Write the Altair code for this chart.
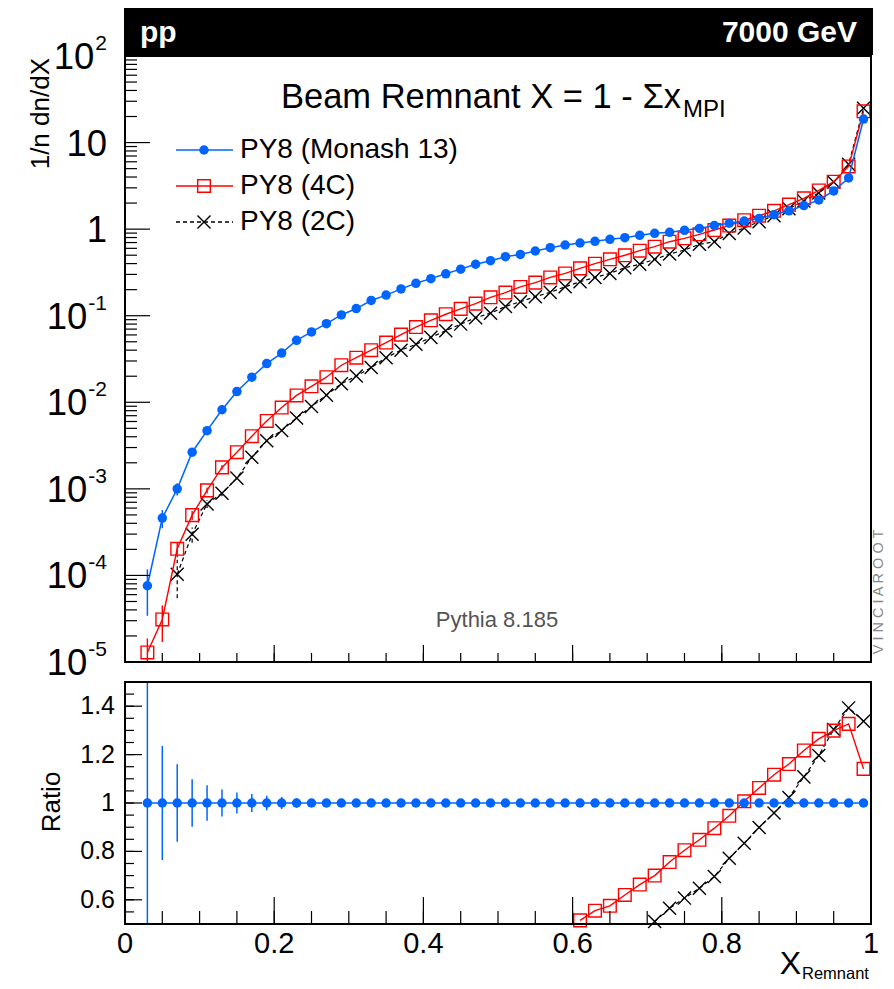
import altair as alt
import pandas as pd

# ---------------- data ----------------
x_centers = [0.03, 0.05, 0.07, 0.09, 0.11, 0.13, 0.15, 0.17, 0.19, 0.21,
             0.23, 0.25, 0.27, 0.29, 0.31, 0.33, 0.35, 0.37, 0.39, 0.41,
             0.43, 0.45, 0.47, 0.49, 0.51, 0.53, 0.55, 0.57, 0.59, 0.61,
             0.63, 0.65, 0.67, 0.69, 0.71, 0.73, 0.75, 0.77, 0.79, 0.81,
             0.83, 0.85, 0.87, 0.89, 0.91, 0.93, 0.95, 0.97, 0.99]

monash = [7.6e-5, 4.6e-4, 1.0e-3, 2.65e-3, 4.7e-3, 8.2e-3, 1.33e-2, 1.95e-2, 2.8e-2, 3.7e-2,
          5.2e-2, 6.5e-2, 8.1e-2, 0.102, 0.121, 0.150, 0.173, 0.204, 0.237, 0.268,
          0.305, 0.345, 0.393, 0.432, 0.481, 0.510, 0.559, 0.610, 0.656, 0.692,
          0.723, 0.763, 0.797, 0.849, 0.895, 0.919, 0.970, 1.02, 1.10, 1.17,
          1.24, 1.33, 1.47, 1.63, 1.87, 2.17, 2.76, 3.9, 18.7]
monash_err = [0.55, 0.236, 0.16, 0.098, 0.073, 0.056, 0.043, 0.037, 0.03, 0.025,
              0.02, 0.017, 0.015, 0.013, 0.012, 0.011, 0.01, 0.01, 0.009, 0.009] + [0.0] * 29

c4 = [1.29e-5, 3.1e-5, 2.03e-4, 4.97e-4, 9.6e-4, 1.77e-3, 2.65e-3, 4.06e-3, 6.08e-3, 8.7e-3,
      1.2e-2, 1.53e-2, 1.95e-2, 2.68e-2, 3.27e-2, 4.0e-2, 4.9e-2, 6.05e-2, 7.4e-2, 8.85e-2,
      0.104, 0.120, 0.138, 0.163, 0.185, 0.215, 0.241, 0.277, 0.308, 0.352,
      0.399, 0.448, 0.499, 0.564, 0.627, 0.716, 0.783, 0.871, 0.977, 1.10,
      1.27, 1.43, 1.63, 1.92, 2.27, 2.80, 3.53, 5.3, 23.0]
c4_err = [0.45, 0.45, 0.2, 0.12, 0.08, 0.06] + [0.0] * 43

x_2c = x_centers[2:]
c2 = [1.03e-4, 2.99e-4, 6.7e-4, 8.9e-4, 1.33e-3, 2.32e-3, 3.59e-3, 4.72e-3, 6.6e-3, 8.95e-3,
      1.21e-2, 1.64e-2, 2.01e-2, 2.52e-2, 3.27e-2, 4.0e-2, 4.67e-2, 5.62e-2, 6.71e-2, 8.0e-2,
      9.48e-2, 0.107, 0.128, 0.145, 0.166, 0.186, 0.216, 0.247, 0.277, 0.308,
      0.358, 0.393, 0.448, 0.516, 0.574, 0.668, 0.716, 0.89, 1.03, 1.22,
      1.43, 1.72, 2.12, 2.62, 3.5, 5.6, 24.9]
c2_err = [0.47, 0.2, 0.1, 0.08] + [0.0] * 43

ratio_x_4c = x_centers[29:]
ratio_4c = [0.515, 0.555, 0.575, 0.620, 0.663, 0.700, 0.756, 0.805, 0.848, 0.896,
            0.947, 1.007, 1.062, 1.117, 1.161, 1.217, 1.265, 1.299, 1.327, 1.141]
ratio_x_2c = x_centers[34:]
ratio_2c = [0.510, 0.565, 0.607, 0.648, 0.696, 0.772, 0.834, 0.899, 0.959, 1.023,
            1.108, 1.196, 1.304, 1.393, 1.338]
ratio_monash = [1.0] * 49

legend_labels = ["PY8 (Monash 13)", "PY8 (4C)", "PY8 (2C)"]
top_tick_values = [1e2, 1e1, 1e0, 1e-1, 1e-2, 1e-3, 1e-4, 1e-5]
top_tick_base = ["10", "10", "1", "10", "10", "10", "10", "10"]
top_tick_exp = ["2", "", "", "-1", "-2", "-3", "-4", "-5"]
ratio_tick_values = [0.6, 0.8, 1.0, 1.2, 1.4]
ratio_tick_text = ["0.6", "0.8", "1", "1.2", "1.4"]
x_tick_values = [0.0, 0.2, 0.4, 0.6, 0.8, 1.0]
x_tick_text = ["0", "0.2", "0.4", "0.6", "0.8", "1"]

# ---------------- styles ----------------
FONT = "Liberation Sans"
BLUE = "#0064ff"
RED = "#ff0000"
BLACK = "#000000"
W, H = 746, 868
TOP_H = 606
BOT_TOP = 626
XSHAPE = "M-1,-1L1,1M-1,1L1,-1"
LAB_R = -18          # right edge of the top y labels (relative to the axis)
EXP_FS = 21          # font size of the exponents

xs = alt.Scale(domain=[0, 1], range=[0, W], nice=False, zero=False)
ys_top = alt.Scale(type="log", domain=[1e-5, 1e2], range=[TOP_H, 0], clamp=True, nice=False)
ys_bot = alt.Scale(domain=[0.5, 1.5], range=[H, BOT_TOP], clamp=True, nice=False, zero=False)


def make_df(xv, yv, err):
    df = pd.DataFrame({"x": xv, "y": yv, "e": err})
    df["lo"] = df["y"] * (1 - df["e"])
    df["hi"] = df["y"] * (1 + df["e"])
    return df


def series(df, ys, color, shape, size, filled, dash=None, lw=1.4):
    enc_x = alt.X("x:Q", scale=xs, axis=None)
    enc_y = alt.Y("y:Q", scale=ys, axis=None)
    line_kw = dict(color=color, strokeWidth=lw)
    if dash:
        line_kw["strokeDash"] = dash
    line = alt.Chart(df).mark_line(**line_kw).encode(x=enc_x, y=enc_y)
    layers = []
    if "e" in df.columns:
        err = alt.Chart(df[df["e"] > 0]).mark_rule(**line_kw).encode(
            x=enc_x, y=alt.Y("lo:Q", scale=ys, axis=None), y2="hi:Q")
        layers.append(err)
    layers.append(line)
    pts = alt.Chart(df).mark_point(shape=shape, size=size, filled=filled, color=color,
                                   strokeWidth=1.4, opacity=1).encode(x=enc_x, y=enc_y)
    layers.append(pts)
    return layers


# ---------------- top panel ----------------
df_mon = make_df(x_centers, monash, monash_err)
df_4c = make_df(x_centers, c4, c4_err)
df_2c = make_df(x_2c, c2, c2_err)

top_layers = []
top_layers += series(df_2c, ys_top, BLACK, XSHAPE, 170, False, dash=[4, 3], lw=1.2)
top_layers += series(df_4c, ys_top, RED, "square", 160, False)
top_layers += series(df_mon, ys_top, BLUE, "circle", 90, True, lw=1.5)

# y ticks (inside, left)
minor_top = [m * 10.0 ** k for k in range(-5, 2) for m in range(2, 10)]
df_minor_top = pd.DataFrame({"v": minor_top})
df_major_top = pd.DataFrame({"v": top_tick_values})
top_layers.append(alt.Chart(df_minor_top).mark_rule(color="black", strokeWidth=1.2).encode(
    y=alt.Y("v:Q", scale=ys_top, axis=None), x=alt.value(0), x2=alt.value(12)))
top_layers.append(alt.Chart(df_major_top).mark_rule(color="black", strokeWidth=1.2).encode(
    y=alt.Y("v:Q", scale=ys_top, axis=None), x=alt.value(0), x2=alt.value(25)))

# y tick labels with superscripts
df_ylab = pd.DataFrame({"v": top_tick_values, "base": top_tick_base, "exp": top_tick_exp})
top_layers.append(alt.Chart(df_ylab).transform_calculate(
    bx=f"datum.exp == '' ? {LAB_R} : {LAB_R - 1} - (length(datum.exp) * {0.556 * EXP_FS} "
       f"- (indexof(datum.exp, '-') >= 0 ? {0.223 * EXP_FS} : 0))"
).mark_text(align="right", baseline="alphabetic", dy=13, fontSize=36.5, font=FONT, color="black").encode(
    x=alt.X("bx:Q", scale=None), y=alt.Y("v:Q", scale=ys_top, axis=None), text="base:N"))
top_layers.append(alt.Chart(df_ylab[df_ylab["exp"] != ""]).mark_text(
    align="right", baseline="alphabetic", dy=-6, fontSize=EXP_FS, font=FONT, color="black").encode(
    x=alt.value(LAB_R), y=alt.Y("v:Q", scale=ys_top, axis=None), text="exp:N"))

top = alt.layer(*top_layers)

# ---------------- bottom (ratio) panel ----------------
df_rmon = pd.DataFrame({"x": x_centers, "y": ratio_monash, "e": monash_err})
df_rmon["lo"] = (df_rmon["y"] - df_rmon["e"]).clip(lower=0.5)
df_rmon["hi"] = (df_rmon["y"] + df_rmon["e"]).clip(upper=1.5)
df_r4c = pd.DataFrame({"x": ratio_x_4c, "y": ratio_4c})
df_r2c = pd.DataFrame({"x": ratio_x_2c, "y": ratio_2c})

bot_layers = []
bot_layers += series(df_r2c, ys_bot, BLACK, XSHAPE, 170, False, dash=[4, 3], lw=1.2)
bot_layers += series(df_r4c, ys_bot, RED, "square", 160, False)
bot_layers += series(df_rmon, ys_bot, BLUE, "circle", 90, True, lw=1.5)

minor_bot = [round(0.5 + 0.05 * i, 2) for i in range(1, 20)]
df_minor_bot = pd.DataFrame({"v": minor_bot})
df_major_bot = pd.DataFrame({"v": ratio_tick_values, "t": ratio_tick_text})
bot_layers.append(alt.Chart(df_minor_bot).mark_rule(color="black", strokeWidth=1.2).encode(
    y=alt.Y("v:Q", scale=ys_bot, axis=None), x=alt.value(0), x2=alt.value(9)))
bot_layers.append(alt.Chart(df_major_bot).mark_rule(color="black", strokeWidth=1.2).encode(
    y=alt.Y("v:Q", scale=ys_bot, axis=None), x=alt.value(0), x2=alt.value(17)))
bot_layers.append(alt.Chart(df_major_bot).mark_text(
    align="right", baseline="middle", fontSize=25, font=FONT, color="black").encode(
    y=alt.Y("v:Q", scale=ys_bot, axis=None), x=alt.value(-10), text="t:N"))

bottom = alt.layer(*bot_layers)

# ---------------- x ticks for both panels ----------------
x_minor = [round(0.05 * i, 2) for i in range(1, 20)]
df_xminor = pd.DataFrame({"v": x_minor})
df_xmajor = pd.DataFrame({"v": x_tick_values, "t": x_tick_text})
xenc = alt.X("v:Q", scale=xs, axis=None)
deco = [
    alt.Chart(df_xminor).mark_rule(color="black", strokeWidth=1.2).encode(
        x=xenc, y=alt.value(TOP_H), y2=alt.value(TOP_H - 9)),
    alt.Chart(df_xmajor).mark_rule(color="black", strokeWidth=1.2).encode(
        x=xenc, y=alt.value(TOP_H), y2=alt.value(TOP_H - 17)),
    alt.Chart(df_xminor).mark_rule(color="black", strokeWidth=1.2).encode(
        x=xenc, y=alt.value(H), y2=alt.value(H - 13)),
    alt.Chart(df_xmajor).mark_rule(color="black", strokeWidth=1.2).encode(
        x=xenc, y=alt.value(H), y2=alt.value(H - 27)),
    alt.Chart(df_xmajor).mark_text(align="center", baseline="alphabetic", fontSize=29,
                                  font=FONT, color="black").encode(
        x=xenc, y=alt.value(897), text="t:N"),
]

# frames
one = pd.DataFrame({"a": [0]})
deco.append(alt.Chart(one).mark_rect(fill=None, stroke="black", strokeWidth=2).encode(
    x=alt.value(0), x2=alt.value(W), y=alt.value(0), y2=alt.value(TOP_H)))
deco.append(alt.Chart(one).mark_rect(fill=None, stroke="black", strokeWidth=2).encode(
    x=alt.value(0), x2=alt.value(W), y=alt.value(BOT_TOP), y2=alt.value(H)))

# header bar
deco.append(alt.Chart(one).mark_rect(fill="black").encode(
    x=alt.value(-1), x2=alt.value(W + 2), y=alt.value(-48), y2=alt.value(-1)))
deco.append(alt.Chart(one).mark_text(text="pp", align="left", baseline="alphabetic", fontSize=30,
                                     fontWeight="bold", font=FONT, color="white").encode(
    x=alt.value(15), y=alt.value(-14)))
deco.append(alt.Chart(one).mark_text(text="7000 GeV", align="right", baseline="alphabetic",
                                     fontSize=30, fontWeight="bold", font=FONT, color="white").encode(
    x=alt.value(732), y=alt.value(-14)))

# plot title
deco.append(alt.Chart(one).mark_text(text="Beam Remnant X = 1 - \u03a3x", align="right",
                                     baseline="alphabetic", fontSize=34.5, font=FONT,
                                     color="black").encode(x=alt.value(556), y=alt.value(52)))
deco.append(alt.Chart(one).mark_text(text="MPI", align="left", baseline="alphabetic", fontSize=24,
                                     font=FONT, color="black").encode(x=alt.value(558), y=alt.value(61)))

# legend
leg_rows = [(legend_labels[0], BLUE, "circle", 90, True, None, 94),
            (legend_labels[1], RED, "square", 160, False, None, 130),
            (legend_labels[2], BLACK, XSHAPE, 170, False, [4, 3], 166)]
for lab, col, shp, sz, fil, dash, yy in leg_rows:
    kw = dict(color=col, strokeWidth=1.4)
    if dash:
        kw["strokeDash"] = dash
    deco.append(alt.Chart(one).mark_rule(**kw).encode(
        x=alt.value(51), x2=alt.value(108), y=alt.value(yy)))
    deco.append(alt.Chart(one).mark_point(shape=shp, size=sz, filled=fil, color=col,
                                          strokeWidth=1.4, opacity=1).encode(
        x=alt.value(79), y=alt.value(yy)))
    deco.append(alt.Chart(one).mark_text(text=lab, align="left", baseline="middle", fontSize=28,
                                         font=FONT, color="black").encode(
        x=alt.value(115), y=alt.value(yy)))

# axis titles
deco.append(alt.Chart(one).mark_text(text="1/n dn/dX", align="right", baseline="middle", angle=270,
                                     fontSize=26, font=FONT, color="black").encode(
    x=alt.value(-84), y=alt.value(2)))
deco.append(alt.Chart(one).mark_text(text="Ratio", align="center", baseline="middle", angle=270,
                                     fontSize=26, font=FONT, color="black").encode(
    x=alt.value(-73), y=alt.value(746)))
deco.append(alt.Chart(one).mark_text(text="X", align="right", baseline="alphabetic", fontSize=32,
                                     font=FONT, color="black").encode(x=alt.value(676), y=alt.value(918)))
deco.append(alt.Chart(one).mark_text(text="Remnant", align="left", baseline="alphabetic", fontSize=16.5,
                                     font=FONT, color="black").encode(x=alt.value(677), y=alt.value(923)))

# annotations
deco.append(alt.Chart(one).mark_text(text="Pythia 8.185", align="center", baseline="middle", fontSize=22,
                                     font=FONT, color="#555555").encode(x=alt.value(372), y=alt.value(564)))
deco.append(alt.Chart(one).mark_text(text="V I N C I A R O O T",
                                     align="center", baseline="middle", angle=270, fontSize=14.5,
                                     font=FONT, color="#888888").encode(x=alt.value(754), y=alt.value(536)))

chart = alt.layer(top, bottom, *deco).resolve_scale(y="independent").properties(
    width=W, height=H,
    padding={"left": 117, "top": 48, "right": 15, "bottom": 57},
    autosize=alt.AutoSizeParams(type="none"),
).configure_view(stroke=None)

chart.save("out.html", embed_options={"renderer": "svg", "actions": False})
